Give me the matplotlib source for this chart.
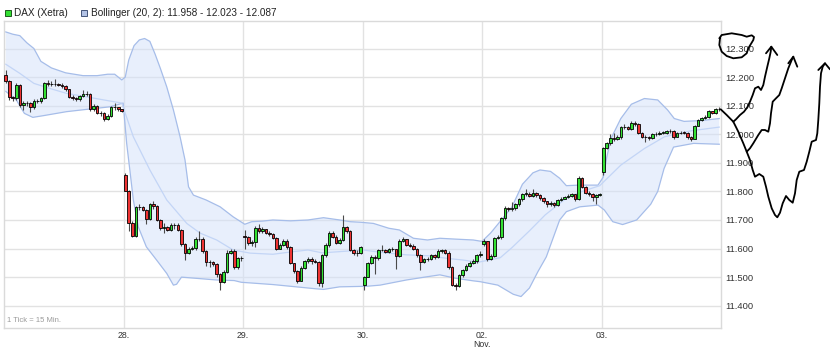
import numpy as np
import matplotlib.pyplot as plt
from matplotlib.lines import Line2D
from matplotlib.patches import Rectangle

plt.rcParams['font.family'] = ['Liberation Sans', 'DejaVu Sans']

# DAX (Xetra), 1 Tick = 15 Min., 6 Handelstage mit je 34 Kerzen
bars_per_day = 34
day_opens = [12.207, 11.857, 11.645, 11.472, 11.617, 11.868]
day_labels = ['28.', '29.', '30.', '02.\nNov.', '03.']

closes = [
    # 27.
    12.187, 12.130, 12.126, 12.172, 12.104, 12.110, 12.108, 12.095, 12.118, 12.115,
    12.128, 12.179, 12.176, 12.175, 12.177, 12.174, 12.170, 12.158, 12.132, 12.128,
    12.122, 12.134, 12.141, 12.142, 12.088, 12.100, 12.073, 12.075, 12.055, 12.065,
    12.095, 12.094, 12.087, 12.082,
    # 28.
    11.803, 11.690, 11.644, 11.744, 11.745, 11.735, 11.705, 11.755, 11.748, 11.700,
    11.672, 11.675, 11.665, 11.682, 11.684, 11.664, 11.615, 11.585, 11.600, 11.601,
    11.632, 11.633, 11.590, 11.554, 11.553, 11.545, 11.510, 11.484, 11.517, 11.585,
    11.590, 11.534, 11.566, 11.568,
    # 29.
    11.640, 11.618, 11.622, 11.672, 11.660, 11.668, 11.655, 11.652, 11.638, 11.600,
    11.612, 11.628, 11.605, 11.548, 11.520, 11.488, 11.532, 11.555, 11.562, 11.558,
    11.552, 11.478, 11.577, 11.612, 11.654, 11.642, 11.620, 11.630, 11.676, 11.660,
    11.595, 11.584, 11.585, 11.606,
    # 30.
    11.501, 11.548, 11.572, 11.567, 11.595, 11.596, 11.588, 11.598, 11.598, 11.575,
    11.627, 11.632, 11.612, 11.610, 11.600, 11.578, 11.552, 11.562, 11.565, 11.578,
    11.572, 11.592, 11.594, 11.585, 11.537, 11.472, 11.470, 11.508, 11.525, 11.540,
    11.550, 11.556, 11.578, 11.580,
    # 02.
    11.625, 11.565, 11.575, 11.637, 11.640, 11.706, 11.742, 11.737, 11.742, 11.755,
    11.772, 11.792, 11.792, 11.785, 11.793, 11.787, 11.776, 11.765, 11.757, 11.758,
    11.752, 11.770, 11.775, 11.780, 11.785, 11.790, 11.775, 11.848, 11.815, 11.795,
    11.790, 11.780, 11.787, 11.792,
    # 03.
    11.951, 11.968, 11.988, 11.985, 11.990, 12.024, 12.026, 12.020, 12.040, 12.036,
    12.004, 11.992, 11.990, 11.987, 12.000, 12.000, 12.006, 12.006, 12.010, 12.012,
    11.992, 12.004, 12.006, 12.005, 11.990, 11.984, 12.030, 12.050, 12.058, 12.060,
    12.080, 12.073, 12.088, 12.087,
]

highs = [
    12.225, 12.190, 12.135, 12.178, 12.175, 12.115, 12.118, 12.112, 12.122, 12.125,
    12.132, 12.183, 12.190, 12.188, 12.192, 12.180, 12.178, 12.172, 12.160, 12.136,
    12.132, 12.138, 12.155, 12.150, 12.145, 12.105, 12.102, 12.080, 12.078, 12.070,
    12.100, 12.110, 12.096, 12.090,
    11.865, 11.805, 11.695, 11.750, 11.755, 11.748, 11.740, 11.760, 11.765, 11.752,
    11.705, 11.690, 11.680, 11.690, 11.690, 11.688, 11.668, 11.620, 11.605, 11.610,
    11.640, 11.660, 11.640, 11.595, 11.560, 11.558, 11.550, 11.515, 11.525, 11.595,
    11.600, 11.598, 11.570, 11.575,
    11.665, 11.645, 11.630, 11.680, 11.685, 11.675, 11.670, 11.660, 11.655, 11.640,
    11.618, 11.635, 11.632, 11.610, 11.550, 11.525, 11.538, 11.560, 11.572, 11.570,
    11.562, 11.555, 11.580, 11.618, 11.660, 11.662, 11.648, 11.636, 11.717, 11.680,
    11.665, 11.600, 11.595, 11.610,
    11.505, 11.552, 11.578, 11.578, 11.600, 11.612, 11.600, 11.602, 11.605, 11.600,
    11.632, 11.640, 11.635, 11.618, 11.615, 11.602, 11.580, 11.568, 11.572, 11.582,
    11.582, 11.598, 11.600, 11.598, 11.590, 11.540, 11.480, 11.512, 11.530, 11.545,
    11.556, 11.565, 11.582, 11.590,
    11.632, 11.628, 11.580, 11.642, 11.648, 11.710, 11.748, 11.746, 11.762, 11.760,
    11.776, 11.796, 11.810, 11.798, 11.810, 11.798, 11.790, 11.780, 11.768, 11.765,
    11.762, 11.774, 11.780, 11.785, 11.792, 11.795, 11.792, 11.855, 11.850, 11.818,
    11.800, 11.795, 11.792, 11.796,
    11.955, 11.972, 12.000, 12.005, 11.998, 12.028, 12.035, 12.030, 12.045, 12.045,
    12.040, 12.008, 11.998, 11.995, 12.004, 12.008, 12.010, 12.012, 12.015, 12.018,
    12.015, 12.008, 12.012, 12.010, 12.008, 11.993, 12.034, 12.054, 12.062, 12.066,
    12.084, 12.082, 12.092, 12.094,
]

lows = [
    12.180, 12.120, 12.115, 12.120, 12.095, 12.085, 12.100, 12.078, 12.090, 12.110,
    12.110, 12.125, 12.170, 12.168, 12.170, 12.168, 12.162, 12.152, 12.128, 12.120,
    12.115, 12.118, 12.130, 12.135, 12.083, 12.080, 12.070, 12.065, 12.048, 12.050,
    12.060, 12.085, 12.082, 12.078,
    11.800, 11.660, 11.640, 11.640, 11.735, 11.730, 11.685, 11.700, 11.740, 11.695,
    11.665, 11.655, 11.660, 11.660, 11.670, 11.660, 11.610, 11.560, 11.580, 11.595,
    11.595, 11.625, 11.585, 11.540, 11.535, 11.540, 11.500, 11.455, 11.480, 11.515,
    11.580, 11.530, 11.530, 11.555,
    11.600, 11.612, 11.610, 11.605, 11.655, 11.655, 11.650, 11.645, 11.632, 11.595,
    11.598, 11.610, 11.598, 11.545, 11.515, 11.480, 11.485, 11.528, 11.550, 11.545,
    11.548, 11.470, 11.465, 11.570, 11.605, 11.638, 11.615, 11.615, 11.625, 11.655,
    11.590, 11.578, 11.575, 11.580,
    11.455, 11.500, 11.545, 11.510, 11.560, 11.590, 11.585, 11.585, 11.592, 11.530,
    11.570, 11.622, 11.608, 11.605, 11.595, 11.572, 11.525, 11.548, 11.558, 11.560,
    11.565, 11.568, 11.585, 11.580, 11.530, 11.468, 11.455, 11.466, 11.502, 11.520,
    11.535, 11.545, 11.550, 11.572,
    11.610, 11.555, 11.560, 11.570, 11.632, 11.635, 11.700, 11.730, 11.733, 11.735,
    11.750, 11.768, 11.785, 11.780, 11.782, 11.782, 11.770, 11.758, 11.745, 11.750,
    11.745, 11.748, 11.765, 11.772, 11.778, 11.782, 11.765, 11.770, 11.812, 11.790,
    11.785, 11.765, 11.755, 11.785,
    11.857, 11.948, 11.962, 11.978, 11.980, 11.985, 12.018, 12.015, 12.015, 12.030,
    12.000, 11.988, 11.972, 11.980, 11.985, 11.995, 11.996, 12.000, 12.002, 12.005,
    11.985, 11.990, 12.000, 12.000, 11.985, 11.975, 11.982, 12.028, 12.048, 12.054,
    12.058, 12.070, 12.072, 12.083,
]

boll_upper_x = [0, 2, 4, 6, 8, 10, 13, 17, 22, 26, 29, 31, 33, 34, 35, 36.5, 38, 39.5,
                41, 42.5, 44, 45.8, 47.7, 49.6, 51, 52, 53.4, 57, 61, 64.7, 68, 70,
                73, 76, 81, 86, 90.4, 95, 98, 101, 104.6, 109, 112, 116, 120, 123.5,
                128, 133, 135.5, 138, 141, 144, 147, 150, 152, 155, 157.6, 159.5,
                163, 168.5, 170, 171, 172.2, 175, 178, 181.7, 185.5, 188.3, 190.2,
                193, 198, 203]
boll_upper = [12.358, 12.350, 12.345, 12.320, 12.300, 12.255, 12.232, 12.215, 12.205,
              12.205, 12.210, 12.210, 12.190, 12.200, 12.260, 12.310, 12.330, 12.335,
              12.325, 12.280, 12.230, 12.166, 12.085, 11.991, 11.910, 11.816, 11.787,
              11.770, 11.746, 11.711, 11.685, 11.694, 11.696, 11.700, 11.697, 11.700,
              11.708, 11.700, 11.694, 11.692, 11.688, 11.671, 11.665, 11.636, 11.630,
              11.636, 11.633, 11.630, 11.625, 11.655, 11.700, 11.745, 11.825, 11.865,
              11.875, 11.870, 11.846, 11.820, 11.822, 11.822, 11.850, 11.920, 11.985,
              12.055, 12.105, 12.125, 12.120, 12.085, 12.055, 12.045, 12.048, 12.055]

boll_mid_x = [0, 4, 8, 12.6, 17.3, 22, 27, 33, 36.3, 41, 45.8, 51.5, 55.3, 60, 64.7,
              69.5, 76, 81, 86, 90, 96, 101.5, 108, 114, 120, 126, 130, 134.4, 140.7,
              144, 149, 153.5, 159.7, 164, 169, 175, 181.7, 187.4, 195, 203]
boll_mid = [12.245, 12.213, 12.178, 12.160, 12.143, 12.133, 12.122, 12.109, 11.991,
            11.875, 11.770, 11.688, 11.654, 11.630, 11.595, 11.584, 11.580, 11.588,
            11.595, 11.585, 11.590, 11.595, 11.585, 11.578, 11.575, 11.565, 11.560,
            11.552, 11.568, 11.603, 11.662, 11.718, 11.778, 11.800, 11.820, 11.892,
            11.950, 11.991, 12.012, 12.025]

boll_lower_x = [0, 1.5, 3, 5.3, 7.7, 10.7, 17.3, 23, 29.7, 33.4, 34.4, 35.3, 36.3,
                37.7, 40, 42.9, 45.8, 47.7, 48.6, 50, 55, 60, 65, 67, 76, 81, 88.4,
                90.4, 95, 102.7, 106.5, 114, 119.7, 123.5, 128, 133, 135, 140,
                144.4, 146.6, 149, 151.4, 153.8, 155, 157.6, 159.5, 163.3, 168.5,
                170.3, 172.7, 175.5, 179.5, 183.5, 185.5, 187.3, 190, 195.7, 203]
boll_lower = [12.150, 12.135, 12.120, 12.073, 12.059, 12.065, 12.079, 12.087, 12.096,
              12.109, 11.968, 11.875, 11.770, 11.676, 11.606, 11.560, 11.513, 11.472,
              11.475, 11.500, 11.495, 11.490, 11.488, 11.482, 11.474, 11.468, 11.459,
              11.457, 11.466, 11.468, 11.472, 11.490, 11.501, 11.508, 11.496, 11.487,
              11.484, 11.472, 11.440, 11.432, 11.462, 11.519, 11.571, 11.612, 11.700,
              11.729, 11.746, 11.752, 11.735, 11.694, 11.684, 11.700, 11.755, 11.800,
              11.880, 11.955, 11.968, 11.965]

# Handschriftliche Markierungen (Bildpunkte, Ursprung oben links)
circle_px = [(719.3, 38.3), (721.7, 35), (731.7, 33.3), (741.7, 35), (746.7, 36.7),
             (751.7, 35.3), (754, 37), (753.3, 40), (748.3, 48.3), (746.7, 53.3),
             (741.7, 57.3), (733.3, 58.3), (726.7, 56), (721.7, 51.7), (719.3, 45),
             (720, 38.3)]
arrow1_px = [(720.7, 109.3), (726.7, 115), (733.3, 121.7), (736, 119.3), (740, 115),
             (744, 111.7), (747.3, 107.3), (750, 101.7), (752.7, 95), (755, 88.3),
             (758.3, 86.7), (761, 90), (763.3, 85), (765, 76.7), (767.3, 66.7),
             (769.3, 58.3), (770.7, 51.7), (771.3, 46.7)]
head1_px = [(766, 53.3), (771.3, 46.7), (777.3, 55)]
arrow2_px = [(733.3, 121.7), (738.3, 131.7), (743.3, 143.3), (746.7, 151.7), (750, 148.3),
             (753.3, 143.3), (758.3, 135), (761.7, 130), (765, 130), (768.3, 131.7),
             (770, 123.3), (771, 113.3), (772.7, 101.7), (776, 98.3), (779.3, 95),
             (781.7, 88.3), (785, 78.3), (788.3, 68.3), (791.7, 60), (793.3, 56.7)]
head2_px = [(788.3, 63.3), (793.3, 56.7), (797.3, 66.7)]
arrow3_px = [(746.7, 151.7), (750, 160), (752.7, 170), (755, 176.7), (759.3, 174),
             (763.3, 176.7), (766, 186.7), (768.3, 196.7), (771.7, 208.3), (775, 215),
             (777.3, 217.3), (780, 212.7), (782.7, 203.3), (786, 196), (789.3, 200),
             (792.7, 202.7), (795, 193.3), (796.7, 180), (799.3, 171.7), (804, 170),
             (806.7, 161.7), (809.3, 151.7), (811.7, 141.7), (816, 140), (817.3, 133.3),
             (818.3, 120), (819.3, 103.3), (820, 86.7), (821, 73.3), (822.7, 66.7),
             (825, 63.3)]
head3_px = [(818.3, 70), (825, 63.3), (830, 69.3)]

W, H = 830, 351
GRID = '#e2e2e2'
UP = '#33e033'
DOWN = '#ee3333'

closes = np.array(closes)
highs = np.array(highs)
lows = np.array(lows)
n = len(closes)
x = np.arange(n)
opens = np.r_[np.nan, closes[:-1]]
for d, o in enumerate(day_opens):
    opens[d * bars_per_day] = o
highs = np.maximum(highs, np.maximum(opens, closes))
lows = np.minimum(lows, np.minimum(opens, closes))

fig = plt.figure(figsize=(W / 100, H / 100), dpi=100)
ax = fig.add_axes([4 / W, 1 - 328 / H, 717 / W, 307.5 / H])

# Bollinger-Band
poly_x = np.r_[boll_upper_x, boll_lower_x[::-1]]
poly_y = np.r_[boll_upper, boll_lower[::-1]]
ax.fill(poly_x, poly_y, color='#d3e1fa', alpha=0.5, lw=0, zorder=1)
ax.plot(boll_upper_x, boll_upper, color='#a6bde9', lw=0.9, zorder=2)
ax.plot(boll_lower_x, boll_lower, color='#a6bde9', lw=0.9, zorder=2)
ax.plot(boll_mid_x, boll_mid, color='#c3d5f6', lw=0.9, zorder=2)

# Kerzen
ax.vlines(x, lows, highs, color='#4a4a4a', lw=0.8, zorder=3)
body_lo = np.minimum(opens, closes)
body_h = np.maximum(np.abs(closes - opens), 0.0015)
colors = [UP if c >= o else DOWN for o, c in zip(opens, closes)]
ax.bar(x, body_h, bottom=body_lo, width=0.74, color=colors,
       edgecolor='black', linewidth=0.6, zorder=4)

ax.set_xlim(-0.5, n - 0.5)
ax.set_ylim(11.322, 12.398)

bounds = [bars_per_day * (d + 1) - 0.5 for d in range(len(day_labels))]
ax.set_xticks(bounds)
ax.set_xticklabels(day_labels, fontsize=6.3, color='#333333', linespacing=1.1)
yt = np.arange(11.4, 12.31, 0.1)
ax.set_yticks(yt)
ax.set_yticklabels([f'{v:.3f}' for v in yt], fontsize=6.8, color='#333333')
ax.yaxis.tick_right()
ax.tick_params(axis='both', length=0)
ax.tick_params(axis='y', pad=3)
ax.tick_params(axis='x', pad=2)
ax.grid(True, color=GRID, lw=1)
ax.set_axisbelow(True)
for s in ax.spines.values():
    s.set_color('#dadada')
    s.set_linewidth(1)

ax.text(0.004, 0.012, '1 Tick = 15 Min.', transform=ax.transAxes, fontsize=5.5,
        color='#9a9a9a', ha='left', va='bottom')

# Legende
fig.add_artist(Rectangle((5 / W, 1 - 16 / H), 6 / W, 6 / H, transform=fig.transFigure,
                         facecolor=UP, edgecolor='#1e5a1e', lw=0.7))
fig.text(14 / W, 1 - 13 / H, 'DAX (Xetra)', fontsize=7.2, color='#222222', va='center')
fig.add_artist(Rectangle((81 / W, 1 - 16 / H), 6 / W, 6 / H, transform=fig.transFigure,
                         facecolor='#b3c3e6', edgecolor='#44557a', lw=0.7))
fig.text(91 / W, 1 - 13 / H, 'Bollinger (20, 2): 11.958 - 12.023 - 12.087',
         fontsize=7.2, color='#222222', va='center')


def stroke(pts):
    xs = [p[0] / W for p in pts]
    ys = [1 - p[1] / H for p in pts]
    fig.add_artist(Line2D(xs, ys, transform=fig.transFigure, color='black', lw=1.3,
                          solid_capstyle='round', solid_joinstyle='round'))


for pts in [circle_px, arrow1_px, head1_px, arrow2_px, head2_px, arrow3_px, head3_px]:
    stroke(pts)

fig.savefig('out.png', dpi=100)
